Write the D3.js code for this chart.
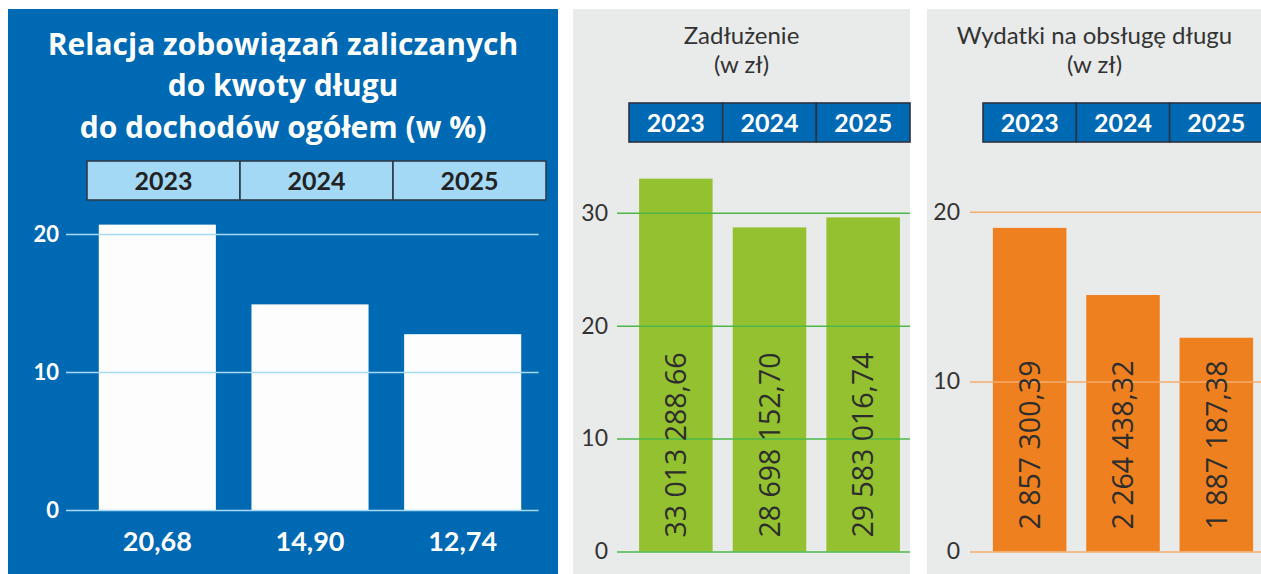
<!DOCTYPE html>
<html><head><meta charset="utf-8">
<script src="https://cdn.jsdelivr.net/npm/d3@7"></script>
<style>body{margin:0;background:#fff} svg{display:block}</style>
</head><body>
<svg id="chart" width="1261" height="574"></svg>
<script>
// ---------- data ----------
const years = ["2023", "2024", "2025"];
const ratioValues = [20.68, 14.90, 12.74];
const ratioTicks = [0, 10, 20];
const debtValues = [33013288.66, 28698152.70, 29583016.74];
const debtTicks = [0, 10, 20, 30];        // axis unit: 1 000 000 zł
const debtUnit = 1000000;
const serviceValues = [2857300.39, 2264438.32, 1887187.38];
const serviceTicks = [0, 10, 20];         // axis unit: 150 000 zł
const serviceUnit = 150000;
const titleRatio = ["Relacja zobowiązań zaliczanych", "do kwoty długu", "do dochodów ogółem (w %)"];
const titleDebt = ["Zadłużenie", "(w zł)"];
const titleService = ["Wydatki na obsługę długu", "(w zł)"];

// ---------- helpers ----------
const pl = d3.formatLocale({decimal: ",", thousands: " ", grouping: [3], currency: ["", " zł"]});
const fmt2 = pl.format(",.2f");
const svg = d3.select("#chart");

function drawHeader(cfg) {
  const band = d3.scaleBand().domain(years).range([cfg.x0, cfg.x1]);
  const g = svg.append("g");
  g.selectAll("rect").data(years).join("rect")
    .attr("x", d => band(d)).attr("y", cfg.y0)
    .attr("width", band.bandwidth()).attr("height", cfg.y1 - cfg.y0)
    .attr("fill", cfg.fill).attr("stroke", cfg.stroke).attr("stroke-width", 1.6);
  g.selectAll("text").data(years).join("text")
    .attr("x", d => band(d) + band.bandwidth() / 2).attr("y", cfg.base)
    .attr("text-anchor", "middle")
    .attr("font-family", "Lato, sans-serif").attr("font-weight", 700)
    .attr("font-size", cfg.size).attr("fill", cfg.color)
    .text(d => d);
}

function drawTitle(lines, cx, ys, cfg) {
  svg.append("g").selectAll("text").data(lines).join("text")
    .attr("x", cx).attr("y", (d, i) => ys[i])
    .attr("text-anchor", "middle")
    .attr("font-family", cfg.family).attr("font-weight", cfg.weight)
    .attr("font-size", cfg.size).attr("fill", cfg.color)
    .text(d => d);
}

function drawAxis(y, x0, x1, tickVals, fmt, cfg) {
  const ax = d3.axisLeft(y).tickValues(tickVals).tickFormat(fmt)
    .tickSize(-(x1 - x0)).tickPadding(cfg.pad);
  const g = svg.append("g").attr("transform", `translate(${x0},0)`).call(ax);
  g.select(".domain").remove();
  g.selectAll(".tick line").attr("stroke", cfg.line).attr("stroke-width", 1.5);
  g.selectAll(".tick text")
    .attr("font-family", cfg.family).attr("font-weight", cfg.weight)
    .attr("font-size", cfg.size).attr("fill", cfg.color);
}

// ---------- panel 1 ----------
svg.append("rect").attr("x", 8).attr("y", 9).attr("width", 550).attr("height", 566).attr("fill", "#0069b3");
drawTitle(titleRatio, 283, [55, 96, 137.5], {family: "'Open Sans', sans-serif", weight: 700, size: 30, color: "#ffffff"});
drawHeader({x0: 87, x1: 546, y0: 161, y1: 200, base: 189.5, fill: "#a3d9f4", stroke: "#2c3c4c", color: "#222222", size: 25});

const x1 = d3.scaleBand().domain(years).range([81, 539]).paddingInner(0.233).paddingOuter(0.1165);
const y1 = d3.scaleLinear().domain([0, 20]).range([510, 234]);
svg.append("g").selectAll("rect").data(ratioValues).join("rect")
  .attr("x", (d, i) => x1(years[i])).attr("width", x1.bandwidth())
  .attr("y", d => y1(d)).attr("height", d => y1(0) - y1(d))
  .attr("fill", "#fdfdfd");
drawAxis(y1, 66, 538.6, ratioTicks, d => d, {pad: 7, line: "#a6daf5", family: "Lato, sans-serif", weight: 700, size: 22, color: "#ffffff"});
svg.append("g").selectAll("text").data(ratioValues).join("text")
  .attr("x", (d, i) => x1(years[i]) + x1.bandwidth() / 2).attr("y", 551)
  .attr("text-anchor", "middle")
  .attr("font-family", "Lato, sans-serif").attr("font-weight", 700)
  .attr("font-size", 27).attr("fill", "#ffffff")
  .text(d => fmt2(d));

// ---------- panel 2 ----------
svg.append("rect").attr("x", 573).attr("y", 9).attr("width", 337).attr("height", 566).attr("fill", "#e9eaea");
drawTitle(titleDebt, 741.5, [44, 73], {family: "Lato, sans-serif", weight: 400, size: 24, color: "#333333"});
drawHeader({x0: 629, x1: 910, y0: 103, y1: 142, base: 131.5, fill: "#0069b3", stroke: "#2b3242", color: "#ffffff", size: 25});

const x2 = d3.scaleBand().domain(years).range([629, 910]).paddingInner(0.215).paddingOuter(0.1075);
const y2 = d3.scaleLinear().domain([0, 30 * debtUnit]).range([551.5, 212.7]);
svg.append("g").selectAll("rect").data(debtValues).join("rect")
  .attr("x", (d, i) => x2(years[i])).attr("width", x2.bandwidth())
  .attr("y", d => y2(d)).attr("height", d => y2(0) - y2(d))
  .attr("fill", "#93c12f");
drawAxis(y2, 617, 910, debtTicks.map(t => t * debtUnit), d => d / debtUnit,
  {pad: 9, line: "#4db848", family: "Lato, sans-serif", weight: 400, size: 23, color: "#333333"});
svg.append("g").selectAll("text").data(debtValues).join("text")
  .attr("transform", (d, i) => `translate(${x2(years[i]) + x2.bandwidth() / 2},445) rotate(-90)`)
  .attr("text-anchor", "middle").attr("dy", "0.36em")
  .attr("font-family", "'Open Sans', sans-serif").attr("font-size", 28.5).attr("fill", "#2d2d2d")
  .text(d => fmt2(d));

// ---------- panel 3 ----------
svg.append("rect").attr("x", 927).attr("y", 9).attr("width", 340).attr("height", 566).attr("fill", "#e9eaea");
drawTitle(titleService, 1094.5, [44, 73], {family: "Lato, sans-serif", weight: 400, size: 24, color: "#333333"});
drawHeader({x0: 983, x1: 1263, y0: 103, y1: 142, base: 131.5, fill: "#0069b3", stroke: "#2b3242", color: "#ffffff", size: 25});

const x3 = d3.scaleBand().domain(years).range([983, 1263]).paddingInner(0.212).paddingOuter(0.106);
const y3 = d3.scaleLinear().domain([0, 20 * serviceUnit]).range([551.5, 211.7]);
svg.append("g").selectAll("rect").data(serviceValues).join("rect")
  .attr("x", (d, i) => x3(years[i])).attr("width", x3.bandwidth())
  .attr("y", d => y3(d)).attr("height", d => y3(0) - y3(d))
  .attr("fill", "#ef801f");
drawAxis(y3, 970, 1261, serviceTicks.map(t => t * serviceUnit), d => Math.round(d / serviceUnit),
  {pad: 10, line: "#f5ac6c", family: "Lato, sans-serif", weight: 400, size: 23, color: "#333333"});
svg.append("g").selectAll("text").data(serviceValues).join("text")
  .attr("transform", (d, i) => `translate(${x3(years[i]) + x3.bandwidth() / 2},445) rotate(-90)`)
  .attr("text-anchor", "middle").attr("dy", "0.36em")
  .attr("font-family", "'Open Sans', sans-serif").attr("font-size", 28.5).attr("fill", "#2d2d2d")
  .text(d => fmt2(d));
</script>
</body></html>
